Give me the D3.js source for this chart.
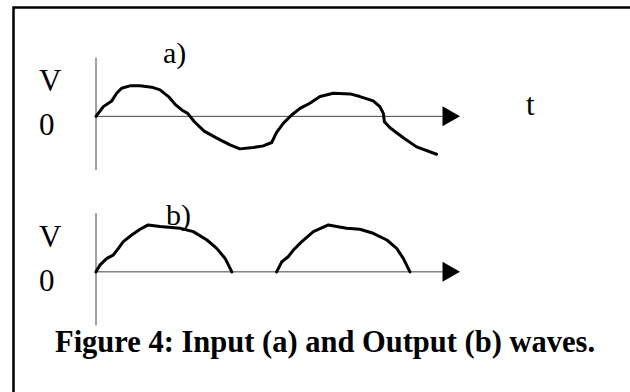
<!DOCTYPE html>
<meta charset="utf-8">
<script src="https://d3js.org/d3.v7.min.js"></script>
<style>
  body { margin: 0; background: #fff; }
  text { font-family: "Liberation Serif", "Times New Roman", serif; fill: #000; }
</style>

<div id="waves"></div>

<script>

// input wave (a): time, voltage
var inputT = [0, 0.21, 0.45, 0.59, 0.73, 0.97, 1.26, 1.59, 1.83, 2.07, 2.26, 2.45, 2.62, 2.81, 3.09, 3.45, 3.83, 4.11, 4.49, 4.78, 5.02, 5.16, 5.35, 5.59, 5.83, 6.11, 6.40, 6.78, 7.26, 7.54, 7.92, 8.11, 8.21, 8.24, 8.40, 8.78, 9.16, 9.73]
var inputV = [0, 0.29, 0.46, 0.69, 0.84, 0.91, 0.91, 0.87, 0.79, 0.59, 0.36, 0.19, 0.09, -0.16, -0.44, -0.65, -0.85, -0.97, -0.93, -0.88, -0.78, -0.48, -0.21, 0.04, 0.24, 0.39, 0.59, 0.69, 0.67, 0.59, 0.46, 0.29, 0.09, -0.16, -0.34, -0.64, -0.91, -1.13]

// output wave (b): two half-wave humps
var hump1T = [0, 0.11, 0.31, 0.49, 0.64, 0.78, 1.02, 1.26, 1.49, 1.83, 2.40, 2.78, 3.17, 3.45, 3.69, 3.88]
var hump1V = [0, 0.20, 0.40, 0.50, 0.70, 0.90, 1.10, 1.27, 1.40, 1.35, 1.30, 1.20, 0.95, 0.70, 0.40, 0]
var hump2T = [5.16, 5.31, 5.49, 5.64, 5.88, 6.21, 6.64, 7.16, 7.54, 7.92, 8.31, 8.59, 8.78, 8.97]
var hump2V = [0, 0.30, 0.45, 0.65, 0.90, 1.20, 1.40, 1.30, 1.27, 1.15, 0.95, 0.70, 0.40, 0]

// axis extents
var tEnd = 10.4
var vExtent = [-1.6, 1.75]

var labels = {a: "a)", b: "b)", v: "V", zero: "0", t: "t"}
var caption = "Figure 4: Input (a) and Output (b) waves."

var width = 630, height = 392

var svg = d3.select("#waves")
  .append("svg")
    .attr("width", width)
    .attr("height", height)

// frame (cut off on right / bottom like the scan)
svg.append("rect")
  .attr("x", 13.5)
  .attr("y", 7.5)
  .attr("width", 700)
  .attr("height", 500)
  .style("fill", "none")
  .style("stroke", "#000")
  .style("stroke-width", 2.5)

var x = d3.scaleLinear().domain([0, tEnd]).range([96, 460])
var yA = d3.scaleLinear().domain([-1.6, 1.8]).range([170, 56])
var yB = d3.scaleLinear().domain([-1.6, 1.8]).range([325.5, 211.5])

function zip(ts, vs) {
  return ts.map(function(t, i) { return [t, vs[i]] })
}

function drawPanel(y, series, name, labelY) {
  var g = svg.append("g")

  // vertical axis
  g.append("line")
    .attr("x1", x(0)).attr("x2", x(0))
    .attr("y1", y(vExtent[1])).attr("y2", y(vExtent[0]))
    .style("stroke", "#444").style("stroke-width", 1)

  // time axis with arrow head
  var x0 = x(tEnd) - 17.5
  g.append("line")
    .attr("x1", x(0)).attr("x2", x0)
    .attr("y1", y(0)).attr("y2", y(0))
    .style("stroke", "#444").style("stroke-width", 1)
  g.append("path")
    .attr("d", "M" + x0 + "," + (y(0) - 10) + "L" + x(tEnd) + "," + y(0) + "L" + x0 + "," + (y(0) + 10) + "Z")
    .style("fill", "#000")

  var line = d3.line()
    .x(function(d) { return x(d[0]) })
    .y(function(d) { return y(d[1]) })

  g.selectAll("path.wave")
    .data(series)
    .enter()
    .append("path")
      .attr("class", "wave")
      .attr("d", line)
      .style("fill", "none")
      .style("stroke", "#000")
      .style("stroke-width", 3)
      .style("stroke-linejoin", "round")
      .style("stroke-linecap", "round")

  g.append("text")
    .attr("x", 39).attr("y", labelY[0])
    .style("font-size", "31px")
    .text(labels.v)
  g.append("text")
    .attr("x", 39).attr("y", labelY[1])
    .style("font-size", "31px")
    .text(labels.zero)
  g.append("text")
    .attr("x", labelY[3]).attr("y", labelY[2])
    .style("font-size", "30px")
    .text(name)
}

drawPanel(yA, [zip(inputT, inputV)], labels.a, [91, 135, 63, 163])
drawPanel(yB, [zip(hump1T, hump1V), zip(hump2T, hump2V)], labels.b, [247, 291, 225, 166])

svg.append("text")
  .attr("x", 526).attr("y", 115)
  .style("font-size", "31px")
  .text(labels.t)

svg.append("text")
  .attr("x", 55).attr("y", 352)
  .style("font-size", "30.5px")
  .style("font-weight", "bold")
  .text(caption)

</script>
